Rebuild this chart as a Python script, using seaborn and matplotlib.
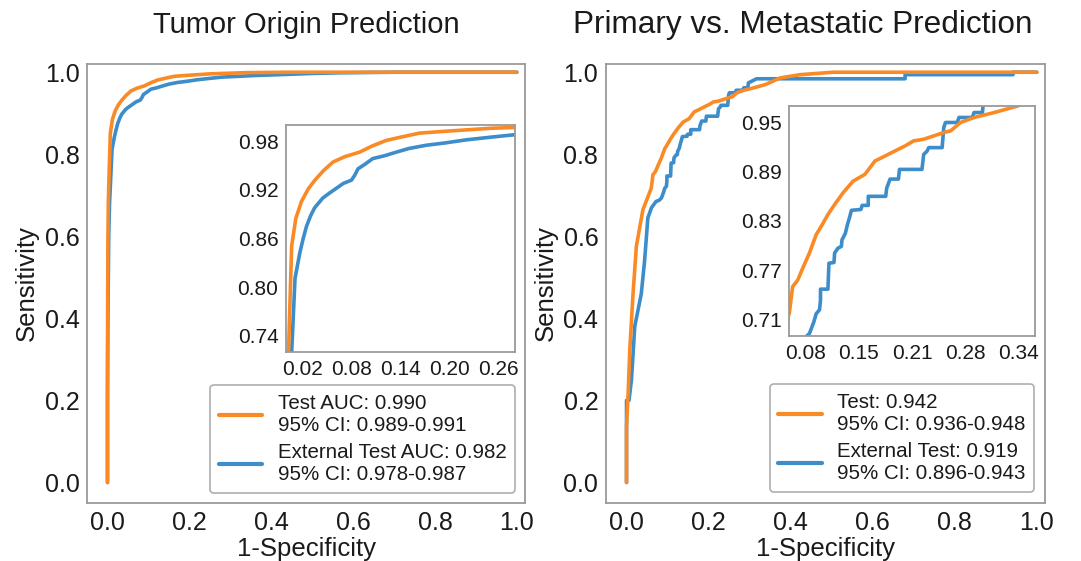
import numpy as np
import pandas as pd
import matplotlib
matplotlib.use("Agg")
import matplotlib.pyplot as plt
import seaborn as sns

# ---- ROC curve vertices (1-specificity, sensitivity) ----
# Tumor origin prediction
origin_test_fpr = [0.0, 0.0, 0.0005, 0.001, 0.002, 0.003, 0.0069, 0.012, 0.019, 0.027,
                   0.0353, 0.046, 0.0576, 0.072, 0.090, 0.105, 0.1225, 0.140, 0.163,
                   0.19, 0.22, 0.25, 0.279, 0.31, 0.34, 0.45, 0.6, 0.8, 1.0]
origin_test_tpr = [0.0, 0.30, 0.45, 0.58, 0.68, 0.72, 0.851, 0.885, 0.906, 0.921,
                   0.932, 0.944, 0.9545, 0.961, 0.9666, 0.974, 0.981, 0.985, 0.990,
                   0.992, 0.994, 0.996, 0.997, 0.998, 0.999, 1.0, 1.0, 1.0, 1.0]

origin_ext_fpr = [0.0, 0.0, 0.001, 0.003, 0.005, 0.0069, 0.011, 0.017, 0.021, 0.025,
                  0.030, 0.035, 0.045, 0.053, 0.0616, 0.070, 0.080, 0.084, 0.088,
                  0.097, 0.106, 0.120, 0.135, 0.150, 0.171, 0.195, 0.22, 0.25,
                  0.279, 0.32, 0.36, 0.42, 0.5, 0.566, 0.7, 1.0]
origin_ext_tpr = [0.0, 0.20, 0.40, 0.60, 0.68, 0.72, 0.811, 0.843, 0.860, 0.875,
                  0.888, 0.898, 0.910, 0.916, 0.922, 0.928, 0.932, 0.938, 0.946,
                  0.952, 0.9586, 0.962, 0.9666, 0.971, 0.975, 0.978, 0.9817, 0.985,
                  0.988, 0.990, 0.992, 0.994, 0.997, 0.9985, 1.0, 1.0]

# Primary vs. metastatic prediction
pm_test_fpr = [0.0, 0.0, 0.004, 0.008, 0.016, 0.024, 0.040, 0.0603, 0.0644, 0.0706,
               0.0767, 0.0849, 0.0931, 0.0993, 0.1074, 0.1156, 0.1259, 0.1381,
               0.1525, 0.1648, 0.1771, 0.1893, 0.2016, 0.2119, 0.2242, 0.2365,
               0.2487, 0.257, 0.2692, 0.2856, 0.3102, 0.3388, 0.374, 0.423, 0.504,
               0.7, 1.0]
pm_test_tpr = [0.0, 0.137, 0.218, 0.324, 0.462, 0.576, 0.665, 0.7174, 0.750, 0.758,
               0.7725, 0.791, 0.8133, 0.8235, 0.8377, 0.850, 0.8643, 0.8785,
               0.8867, 0.903, 0.9091, 0.9153, 0.9214, 0.9275, 0.9295, 0.9336,
               0.9377, 0.9397, 0.9499, 0.956, 0.962, 0.970, 0.986, 0.994, 1.0,
               1.0, 1.0]

pm_ext_fpr = [0.0, 0.0, 0.006, 0.012, 0.020, 0.028, 0.036, 0.044, 0.052, 0.061,
              0.072, 0.0796, 0.0849, 0.0902, 0.0931, 0.0972, 0.0984, 0.0984,
              0.1074, 0.1087, 0.1148, 0.1156, 0.1197, 0.1238, 0.1246, 0.1287,
              0.1312, 0.1340, 0.1361, 0.1476, 0.1492, 0.1566, 0.1566, 0.1779,
              0.1791, 0.1832, 0.1934, 0.1947, 0.2221, 0.2242, 0.2283, 0.2303,
              0.2467, 0.2487, 0.2508, 0.2651, 0.2672, 0.2835, 0.2856, 0.2958,
              0.297, 0.317, 0.366, 0.679, 0.679, 0.942, 0.942, 1.0]
pm_ext_tpr = [0.0, 0.20, 0.20, 0.25, 0.38, 0.42, 0.46, 0.54, 0.645, 0.670,
              0.685, 0.688, 0.693, 0.707, 0.717, 0.722, 0.734, 0.747,
              0.747, 0.7786, 0.7794, 0.791, 0.797, 0.799, 0.807, 0.815,
              0.8255, 0.835, 0.843, 0.844, 0.849, 0.849, 0.860, 0.860,
              0.870, 0.881, 0.881, 0.8928, 0.8928, 0.911, 0.915, 0.9193,
              0.9193, 0.9438, 0.9499, 0.9499, 0.956, 0.956, 0.962, 0.962,
              0.974, 0.984, 0.984, 0.984, 0.994, 0.994, 1.0, 1.0]

titles = ["Tumor Origin Prediction", "Primary vs. Metastatic Prediction"]
legend_labels = [
    ["Test AUC: 0.990\n95% CI: 0.989-0.991",
     "External Test AUC: 0.982\n95% CI: 0.978-0.987"],
    ["Test: 0.942\n95% CI: 0.936-0.948",
     "External Test: 0.919\n95% CI: 0.896-0.943"],
]
main_ticks = [0.0, 0.2, 0.4, 0.6, 0.8, 1.0]
main_ticklabels = ["0.0", "0.2", "0.4", "0.6", "0.8", "1.0"]
inset_xticks = [[0.02, 0.08, 0.14, 0.20, 0.26], [0.08, 0.145, 0.21, 0.275, 0.34]]
inset_xticklabels = [["0.02", "0.08", "0.14", "0.20", "0.26"],
                     ["0.08", "0.15", "0.21", "0.28", "0.34"]]
inset_yticks = [[0.74, 0.80, 0.86, 0.92, 0.98], [0.71, 0.77, 0.83, 0.89, 0.95]]
inset_yticklabels = [["0.74", "0.80", "0.86", "0.92", "0.98"],
                     ["0.71", "0.77", "0.83", "0.89", "0.95"]]
inset_xlims = [(0.0, 0.28), (0.06, 0.36)]
inset_ylims = [(0.72, 1.0), (0.69, 0.97)]

ORANGE = "#fa8a25"
BLUE = "#3d8dca"
SPINE = "#9a9a9a"

sns.set_theme(style="white")
plt.rcParams["font.family"] = ["Liberation Sans", "DejaVu Sans"]
plt.rcParams["text.color"] = "#1a1a1a"
plt.rcParams["axes.labelcolor"] = "#1a1a1a"
plt.rcParams["xtick.color"] = "#1a1a1a"
plt.rcParams["ytick.color"] = "#1a1a1a"

fig = plt.figure(figsize=(10.81, 5.61), dpi=100)

main_rects = [[0.0805, 0.1034, 0.4052, 0.7825], [0.5606, 0.1034, 0.4061, 0.7825]]
inset_rects = [[0.2646, 0.3725, 0.2118, 0.4046], [0.7299, 0.4011, 0.2276, 0.4100]]
legend_anchors = [(0.4764, 0.1212), (0.9565, 0.1230)]
title_sizes = [21, 22.7]
title_x = [0.5, 0.4476]

curves = [
    (origin_test_fpr, origin_test_tpr, origin_ext_fpr, origin_ext_tpr),
    (pm_test_fpr, pm_test_tpr, pm_ext_fpr, pm_ext_tpr),
]


def style_axes(ax):
    for sp in ax.spines.values():
        sp.set_color(SPINE)
        sp.set_linewidth(1.3)
    ax.tick_params(axis="both", which="major", length=2.5, width=0.8,
                   color=SPINE, pad=3)


for i in range(2):
    tf, tt, ef, et = curves[i]
    df_e = pd.DataFrame({"fpr": ef, "tpr": et})
    df_t = pd.DataFrame({"fpr": tf, "tpr": tt})

    ax = fig.add_axes(main_rects[i])
    # external curve drawn underneath the test curve
    sns.lineplot(data=df_e, x="fpr", y="tpr", sort=False, estimator=None,
                 color=BLUE, linewidth=2.6, ax=ax, label=legend_labels[i][1])
    sns.lineplot(data=df_t, x="fpr", y="tpr", sort=False, estimator=None,
                 color=ORANGE, linewidth=2.6, ax=ax, label=legend_labels[i][0])
    ax.set_xlim(-0.05, 1.02)
    ax.set_ylim(-0.05, 1.02)
    ax.set_xticks(main_ticks)
    ax.set_yticks(main_ticks)
    ax.set_xticklabels(main_ticklabels, fontsize=18)
    ax.set_yticklabels(main_ticklabels, fontsize=18)
    ax.set_xlabel("1-Specificity", fontsize=18.5, labelpad=2)
    ax.set_ylabel("Sensitivity", fontsize=18.5, labelpad=4)
    ax.set_title(titles[i], fontsize=title_sizes[i], pad=22, x=title_x[i])
    style_axes(ax)

    handles, labs = ax.get_legend_handles_labels()
    order = [1, 0]
    leg = ax.legend([handles[k] for k in order], [labs[k] for k in order],
                    loc="lower right", bbox_to_anchor=legend_anchors[i],
                    bbox_transform=fig.transFigure, fontsize=14.8,
                    frameon=True, fancybox=True, edgecolor=SPINE,
                    handlelength=2.1, handletextpad=0.75, labelspacing=0.42,
                    borderpad=0.42, borderaxespad=0.0)
    leg.get_frame().set_linewidth(1.2)
    for ln in leg.get_lines():
        ln.set_linewidth(3.0)

    axin = fig.add_axes(inset_rects[i])
    sns.lineplot(data=df_e, x="fpr", y="tpr", sort=False, estimator=None,
                 color=BLUE, linewidth=2.6, ax=axin)
    sns.lineplot(data=df_t, x="fpr", y="tpr", sort=False, estimator=None,
                 color=ORANGE, linewidth=2.6, ax=axin)
    axin.set_xlim(*inset_xlims[i])
    axin.set_ylim(*inset_ylims[i])
    axin.set_xticks(inset_xticks[i])
    axin.set_yticks(inset_yticks[i])
    axin.set_xticklabels(inset_xticklabels[i], fontsize=15)
    axin.set_yticklabels(inset_yticklabels[i], fontsize=15)
    axin.set_xlabel("")
    axin.set_ylabel("")
    style_axes(axin)

fig.savefig("out.png", dpi=100, facecolor="white")
